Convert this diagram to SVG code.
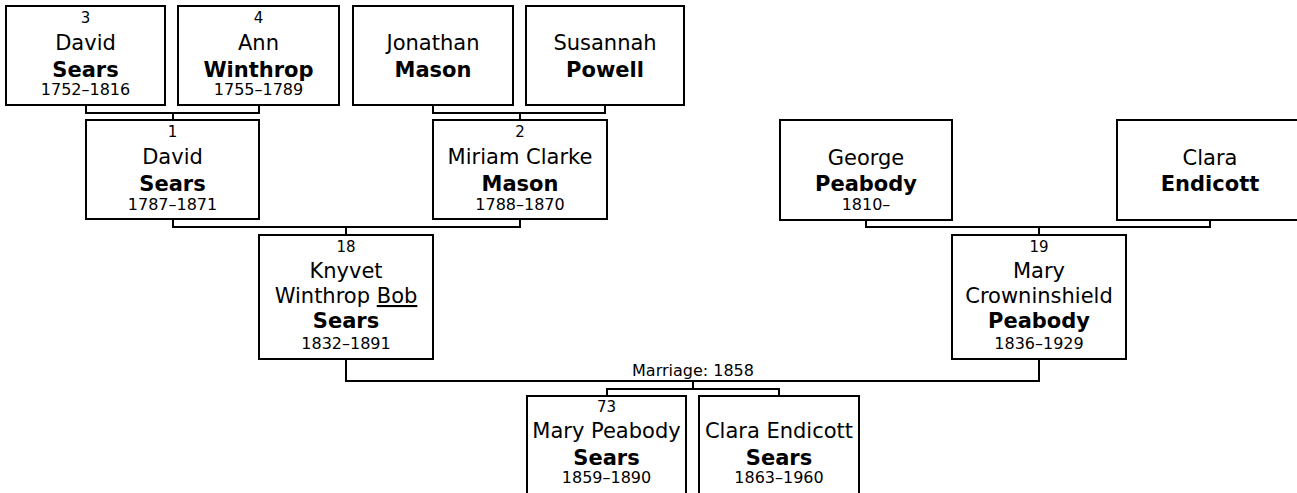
<svg xmlns="http://www.w3.org/2000/svg" width="1297" height="493" viewBox="0 0 1297 493">
<style>
  rect.box { fill: #fff; stroke: #000; stroke-width: 2; }
  text { font-family: "DejaVu Sans", Verdana, sans-serif; fill: #000; text-anchor: middle; }
  .num { font-size: 15px; }
  .nm { font-size: 21px; }
  .sn { font-size: 21px; font-weight: bold; }
  .dt { font-size: 16px; }
  .lbl { font-size: 16px; }
  .conn { fill: none; stroke: #000; stroke-width: 2; }
</style>
<rect width="1297" height="493" fill="#fff"/>
<g id="connectors">
  <path class="conn" d="M86 105 V113 H259 V105 M173 113 V120"/>
  <path class="conn" d="M433 105 V113 H605 V105 M520 113 V120"/>
  <path class="conn" d="M173 219 V227 H520 V219 M346 227 V235"/>
  <path class="conn" d="M866 220 V227 H1210 V220 M1039 227 V235"/>
  <path class="conn" d="M346 359 V381 H1039 V359 M693 381 V389"/>
  <path class="conn" d="M607 396 V389 H779 V396"/>
  <text class="lbl" x="693" y="376">Marriage: 1858</text>
</g>
<g id="p3">
  <rect class="box" x="6" y="6" width="159" height="99"/>
  <text class="num" x="85.5" y="23">3</text>
  <text class="nm" x="85.5" y="50">David</text>
  <text class="sn" x="85.5" y="77">Sears</text>
  <text class="dt" x="85.5" y="95">1752–1816</text>
</g>
<g id="p4">
  <rect class="box" x="178" y="6" width="161" height="99"/>
  <text class="num" x="258.5" y="23">4</text>
  <text class="nm" x="258.5" y="50">Ann</text>
  <text class="sn" x="258.5" y="77">Winthrop</text>
  <text class="dt" x="258.5" y="95">1755–1789</text>
</g>
<g id="jonathan">
  <rect class="box" x="353" y="6" width="160" height="99"/>
  <text class="nm" x="433" y="50">Jonathan</text>
  <text class="sn" x="433" y="77">Mason</text>
</g>
<g id="susannah">
  <rect class="box" x="526" y="6" width="158" height="99"/>
  <text class="nm" x="605" y="50">Susannah</text>
  <text class="sn" x="605" y="77">Powell</text>
</g>
<g id="p1">
  <rect class="box" x="86" y="120" width="173" height="99"/>
  <text class="num" x="172.5" y="137">1</text>
  <text class="nm" x="172.5" y="164">David</text>
  <text class="sn" x="172.5" y="191">Sears</text>
  <text class="dt" x="172.5" y="210">1787–1871</text>
</g>
<g id="p2">
  <rect class="box" x="433" y="120" width="174" height="99"/>
  <text class="num" x="520" y="137">2</text>
  <text class="nm" x="520" y="164">Miriam Clarke</text>
  <text class="sn" x="520" y="191">Mason</text>
  <text class="dt" x="520" y="210">1788–1870</text>
</g>
<g id="george">
  <rect class="box" x="780" y="120" width="172" height="100"/>
  <text class="nm" x="866" y="165">George</text>
  <text class="sn" x="866" y="191">Peabody</text>
  <text class="dt" x="866" y="210">1810–</text>
</g>
<g id="clara">
  <rect class="box" x="1117" y="120" width="186" height="100"/>
  <text class="nm" x="1210" y="165">Clara</text>
  <text class="sn" x="1210" y="191">Endicott</text>
</g>
<g id="p18">
  <rect class="box" x="259" y="235" width="174" height="124"/>
  <text class="num" x="346" y="252">18</text>
  <text class="nm" x="346" y="278">Knyvet</text>
  <text class="nm" x="346" y="303">Winthrop <tspan text-decoration="underline">Bob</tspan></text>
  <text class="sn" x="346" y="328">Sears</text>
  <text class="dt" x="346" y="349">1832–1891</text>
</g>
<g id="p19">
  <rect class="box" x="952" y="235" width="174" height="124"/>
  <text class="num" x="1039" y="252">19</text>
  <text class="nm" x="1039" y="278">Mary</text>
  <text class="nm" x="1039" y="303">Crowninshield</text>
  <text class="sn" x="1039" y="328">Peabody</text>
  <text class="dt" x="1039" y="349">1836–1929</text>
</g>
<g id="p73">
  <rect class="box" x="527" y="396" width="159" height="110"/>
  <text class="num" x="606.5" y="412">73</text>
  <text class="nm" x="606.5" y="438">Mary Peabody</text>
  <text class="sn" x="606.5" y="465">Sears</text>
  <text class="dt" x="606.5" y="483">1859–1890</text>
</g>
<g id="clara-sears">
  <rect class="box" x="699" y="396" width="160" height="110"/>
  <text class="nm" x="779" y="438">Clara Endicott</text>
  <text class="sn" x="779" y="465">Sears</text>
  <text class="dt" x="779" y="483">1863–1960</text>
</g>
</svg>
